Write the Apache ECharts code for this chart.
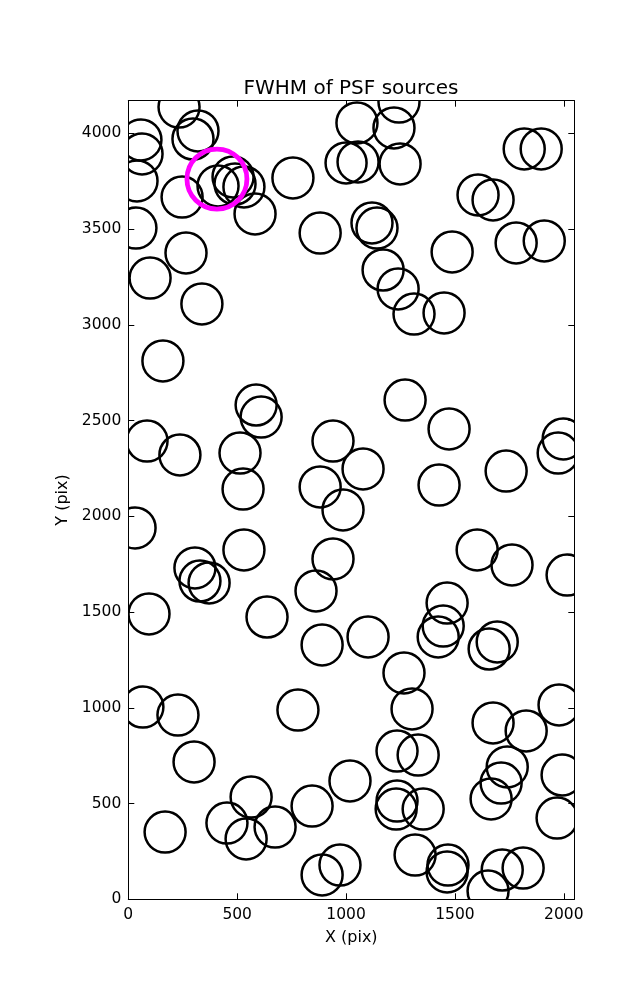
<!DOCTYPE html>
<html>
<head>
<meta charset="utf-8">
<script src="https://cdn.jsdelivr.net/npm/echarts@6/dist/echarts.min.js"></script>
<style>
html,body{margin:0;padding:0;background:#fff;}
#chart{width:637px;height:1000px;}
</style>
</head>
<body>
<div id="chart"></div>
<script>
// Source positions (pix)
const xs = [233,320,297,58,63,40,35,247,412,481,490,531,582,756,881,265,100,338,159,
1050,1243,1220,1000,1055,1248,1818,1896,1606,1675,1119,1142,1487,1781,1910,1170,1239,1312,1450,
587,610,86,237,513,527,940,1078,881,986,31,531,306,329,371,940,862,95,637,
1271,1473,1427,1735,1997,1974,1602,1762,2015,1464,1446,1423,1101,1694,1657,890,
67,228,779,302,564,453,541,674,844,1018,169,890,972,
1266,1303,1234,1331,1234,1230,1354,1317,1468,1464,
1675,1827,1978,1740,1712,1666,1992,1969,1717,1813,1652];
const ys = [4137,4012,3970,3965,3892,3751,3505,3667,3725,3772,3735,3720,3579,3767,3479,3375,3244,3109,2811,
4054,4163,4028,3845,3850,3840,3918,3918,3678,3652,3532,3505,3380,3427,3438,3286,3187,3056,3062,
2581,2518,2393,2320,2330,2142,2393,2247,2153,2033,1939,1824,1730,1662,1652,1777,1610,1490,1474,
2607,2456,2163,2236,2404,2330,1824,1746,1693,1547,1427,1370,1370,1344,1307,1328,
1004,962,988,717,534,398,315,377,487,618,351,127,179,
1182,994,774,753,513,471,471,231,179,143,
921,879,1015,691,607,524,649,424,153,163,43];
const hx = [407];
const hy = [3761];
const xTicks = [0,500,1000,1500,2000];
const yTicks = [0,500,1000,1500,2000,2500,3000,3500,4000];
const xMax = 2048, yMax = 4170;

const black = '#000';
const font = 'DejaVu Sans';
function axisBase(extra){
  return Object.assign({
    type:'value', min:0, interval:500,
    axisLine:{show:true, onZero:false, lineStyle:{color:black, width:1}},
    axisTick:{show:true, inside:true, length:6, lineStyle:{color:black, width:1}},
    splitLine:{show:false},
    z:10
  }, extra);
}
const circleItem = (r, color, lw) => function(params, api){
  const p = api.coord([api.value(0), api.value(1)]);
  return {type:'circle', shape:{cx:p[0], cy:p[1], r:r},
    style:{fill:'none', stroke:color, lineWidth:lw}};
};

const chart = echarts.init(document.getElementById('chart'), null, {renderer:'canvas'});
chart.setOption({
  animation:false,
  backgroundColor:'#fff',
  title:{text:'FWHM of PSF sources', left:346, textAlign:'center', top:74,
    textStyle:{fontFamily:font, fontSize:20, fontWeight:'normal', color:black}},
  grid:{left:128.3, right:62.7, top:100.7, bottom:100.7, show:false},
  xAxis:[
    axisBase({max:xMax, position:'bottom', name:'X (pix)', nameLocation:'middle', nameGap:31,
      nameTextStyle:{fontFamily:font, fontSize:16, color:black},
      axisLabel:{show:true, margin:8, fontFamily:font, fontSize:15.5, color:black, showMaxLabel:false,
        formatter:v => xTicks.includes(v) ? String(v) : ''}}),
    axisBase({max:xMax, position:'top', axisLabel:{show:false}})
  ],
  yAxis:[
    axisBase({max:yMax, position:'left', name:'Y (pix)', nameLocation:'middle', nameGap:56,
      nameTextStyle:{fontFamily:font, fontSize:16, color:black},
      axisLabel:{show:true, margin:7, fontFamily:font, fontSize:15.5, color:black, showMaxLabel:false,
        formatter:v => yTicks.includes(v) ? String(v) : ''}}),
    axisBase({max:yMax, position:'right', axisLabel:{show:false}})
  ],
  series:[
    {type:'custom', xAxisIndex:0, yAxisIndex:0, clip:true, z:2,
     data: xs.map((x,i)=>[x, ys[i]]),
     renderItem: circleItem(20.5, black, 2.5)},
    {type:'custom', xAxisIndex:0, yAxisIndex:0, clip:true, z:3,
     data: hx.map((x,i)=>[x, hy[i]]),
     renderItem: circleItem(30, '#ff00ff', 4.8)}
  ]
});
</script>
</body>
</html>
